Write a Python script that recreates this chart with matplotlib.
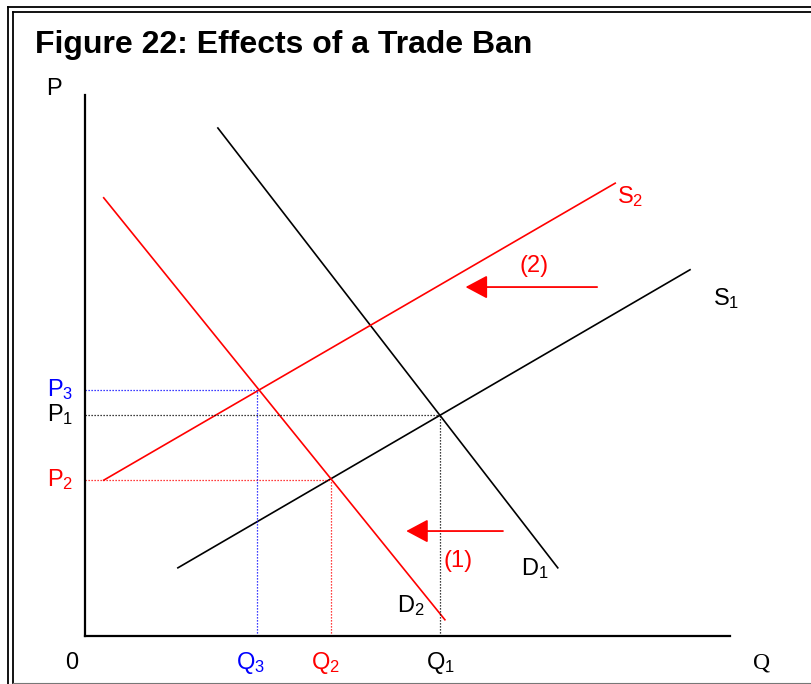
"""Figure 22 - effects of a trade ban (supply/demand shift diagram)."""

import matplotlib

matplotlib.use("Agg")
import matplotlib.pyplot as plt
from matplotlib.lines import Line2D

plt.rcParams["font.family"] = ["Liberation Sans", "DejaVu Sans"]
plt.rcParams["mathtext.fontset"] = "custom"
plt.rcParams["mathtext.rm"] = "Liberation Sans"
plt.rcParams["mathtext.default"] = "regular"

RED = "#ff0000"
BLUE = "#0000ff"

# curve end points (Q, P), axis units 0..100
d1_q = [20.6, 73.3]
d1_p = [93.9, 12.6]
s1_q = [14.4, 93.8]
s1_p = [12.6, 67.7]
s2_q = [2.9, 82.2]
s2_p = [28.8, 83.7]
d2_q = [2.9, 55.8]
d2_p = [81.0, 3.0]

# equilibria
eq_q = {"1": 55.0, "2": 38.1, "3": 26.6}
eq_p = {"1": 40.9, "2": 28.8, "3": 45.4}
eq_color = {"1": "black", "2": RED, "3": BLUE}

# shift arrows: (start Q, end Q, P)
arrow1 = (64.8, 49.8, 19.4)
arrow2 = (79.4, 59.0, 64.5)

W, H = 812, 684
fig = plt.figure(figsize=(W / 100, H / 100), dpi=100)
ax = fig.add_axes([85 / W, (H - 636) / H, 645 / W, 541 / H])
ax.set_xlim(0, 100)
ax.set_ylim(0, 100)
for s in ("top", "right"):
    ax.spines[s].set_visible(False)
for s in ("left", "bottom"):
    ax.spines[s].set_linewidth(1.6)
ax.set_xticks([])
ax.set_yticks([])

lw = 1.2
ax.plot(d1_q, d1_p, color="black", lw=lw)
ax.plot(s1_q, s1_p, color="black", lw=lw)
ax.plot(s2_q, s2_p, color=RED, lw=lw)
ax.plot(d2_q, d2_p, color=RED, lw=lw)

for k in ("1", "2", "3"):
    q, p, c = eq_q[k], eq_p[k], eq_color[k]
    ax.plot([0, q], [p, p], color=c, lw=0.9, ls=(0, (1, 1.4)))
    ax.plot([q, q], [0, p], color=c, lw=0.9, ls=(0, (1, 1.4)))

for q0, q1, p in (arrow1, arrow2):
    ax.annotate("", xy=(q1, p), xytext=(q0, p),
                arrowprops=dict(arrowstyle="-|>,head_length=1.35,head_width=0.72",
                                color=RED, lw=1.3, shrinkA=0, shrinkB=0))

fs = 17
sub = dict(fontsize=fs, clip_on=False, ha="left", va="center")
ax.text(55.6, 13.8, "(1)", color=RED, **sub)
ax.text(67.4, 68.4, "(2)", color=RED, **sub)
ax.text(82.5, 81.3, "S$_2$", color=RED, **sub)
ax.text(97.4, 62.3, "S$_1$", color="black", **sub)
ax.text(67.6, 12.4, "D$_1$", color="black", **sub)
ax.text(48.3, 5.7, "D$_2$", color="black", **sub)

# axis labels
ax.text(-6.1, 101.1, "P", color="black", **sub)
ax.text(103.6, -5.0, "Q", color="black", ha="left", va="center",
        family="Liberation Serif", fontsize=fs, clip_on=False)
ax.text(-2.0, -5.0, "0", color="black", fontsize=fs, ha="center", va="center", clip_on=False)
q_label_x = {"3": 23.4, "2": 35.1, "1": 52.9}
for k in ("3", "2", "1"):
    ax.text(q_label_x[k], -5.0, f"Q$_{k}$", color=eq_color[k], **sub)
    ax.text(-5.9, eq_p[k] + 0.1, f"P$_{k}$", color=eq_color[k], **sub)

fig.text(35 / W, 1 - 53 / H, "Figure 22: Effects of a Trade Ban", fontsize=23,
         fontweight="bold", ha="left", va="baseline")

# double frame
def fline(x, y, **kw):
    fig.add_artist(Line2D([v / W for v in x], [1 - v / H for v in y],
                          transform=fig.transFigure, **kw))

fline([8.5, W], [6.5, 6.5], color="black", lw=1.3)
fline([8.5, 8.5], [6.5, H], color="black", lw=1.3)
fline([13.5, W], [11.5, 11.5], color="black", lw=1.3)
fline([13.5, 13.5], [11.5, 682.5], color="black", lw=1.3)
fline([13.5, W], [682.5, 682.5], color="#777777", lw=0.8)

fig.savefig("out.png", dpi=100)
